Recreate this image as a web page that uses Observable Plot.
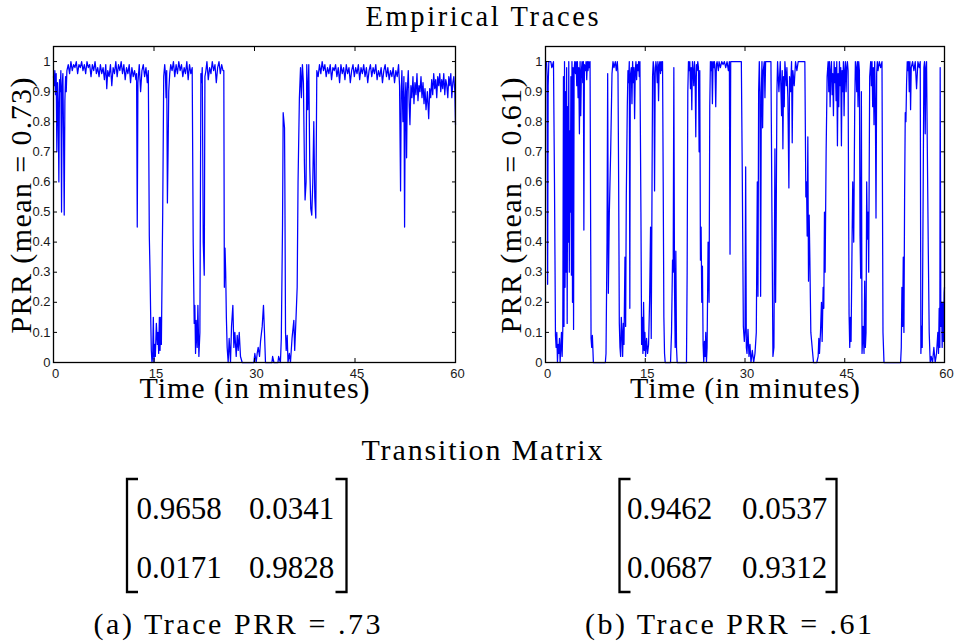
<!DOCTYPE html>
<html><head><meta charset="utf-8">
<script src="https://cdn.jsdelivr.net/npm/d3@7"></script>
<script src="https://cdn.jsdelivr.net/npm/@observablehq/plot@0.6"></script>
<style>
html,body{margin:0;padding:0;background:#fff;}
#root{position:relative;width:954px;height:644px;overflow:hidden;background:#fff;}
#root svg{position:absolute;}
</style></head><body><div id="root"></div>
<script>
// Trace (a): [time in minutes, PRR]
const traceA = [
[0,0.95],[0.1,0.92],[0.2,0.97],[0.3,0.89],[0.4,0.96],[0.5,0.7],[0.6,0.93],[0.7,0.86],[0.8,0.6],[0.9,0.94],[1.0,0.9],[1.1,0.97],[1.2,0.5],[1.3,0.92],[1.4,0.96],[1.5,0.76],[1.6,0.49],[1.7,0.87],[1.8,0.95],[1.9,0.9],[2.0,0.97],
[2.2,0.99],[2.4,0.96],[2.6,1.0],[2.8,0.97],[3.0,0.99],[3.2,0.98],[3.4,1.0],[3.6,0.96],[3.8,0.99],[4.0,0.98],[4.2,1.0],[4.4,0.97],[4.6,0.99],[4.8,0.96],[5.0,1.0],[5.2,0.98],[5.4,0.99],[5.6,0.95],[5.8,0.99],[6.0,0.97],[6.2,1.0],[6.4,0.96],[6.6,0.98],[6.8,0.95],[7.0,0.99],[7.2,0.96],[7.4,0.98],[7.6,0.94],[7.8,0.99],[7.95,0.91],[8.1,0.97],[8.3,0.95],[8.5,0.99],[8.7,0.92],[8.9,0.98],[9.1,0.96],[9.3,1.0],[9.5,0.95],[9.7,0.99],[9.9,0.97],[10.1,1.0],[10.3,0.96],[10.5,0.99],[10.7,0.94],[10.9,0.98],[11.1,0.96],[11.3,0.99],[11.5,0.93],[11.7,0.98],[11.9,0.95],[12.1,0.97],[12.3,0.94],
[12.4,0.96],[12.5,0.45],[12.6,0.93],[12.8,0.99],[13.0,0.9],[13.2,0.97],[13.4,0.99],[13.6,0.95],[13.8,0.98],[14.0,0.93],[14.15,0.97],[14.3,0.42],[14.4,0.31],[14.5,0.16],[14.6,0.04],[14.7,0.0],[14.8,0.02],[14.9,0.15],[15.0,0.0],[15.1,0.06],[15.2,0.02],[15.35,0.13],[15.5,0.06],[15.6,0.1],[15.7,0.03],[15.8,0.15],[15.9,0.04],[16.0,0.15],[16.1,0.06],[16.3,0.5],[16.45,0.95],[16.6,0.99],[16.7,0.96],[16.8,0.88],[16.9,0.97],[17.0,0.53],[17.1,0.7],[17.2,0.9],[17.35,0.96],
[17.5,0.99],[17.7,0.97],[17.9,1.0],[18.1,0.95],[18.3,0.99],[18.5,0.96],[18.7,1.0],[18.9,0.97],[19.1,0.99],[19.3,0.95],[19.5,0.98],[19.7,0.96],[19.9,1.0],[20.1,0.94],[20.3,0.99],[20.5,0.96],[20.7,0.98],
[20.85,0.4],[21.0,0.13],[21.1,0.19],[21.2,0.03],[21.3,0.14],[21.45,0.05],[21.55,0.19],[21.7,0.02],[21.85,0.1],[22.0,0.96],[22.1,0.93],[22.2,0.98],[22.35,0.4],[22.5,0.29],[22.6,0.95],[22.75,0.97],[22.9,1.0],[23.1,0.94],[23.3,0.98],[23.5,0.96],[23.7,1.0],[23.9,0.97],[24.1,0.99],[24.3,0.93],[24.5,0.98],[24.7,1.0],[24.9,0.96],[25.1,0.99],[25.3,0.97],[25.42,0.97],
[25.5,0.25],[25.6,0.38],[25.7,0.3],[25.8,0.15],[25.92,0.05],[26.07,0.0],[26.22,0.08],[26.42,0.0],[26.57,0.12],[26.77,0.19],[26.92,0.05],[27.07,0.1],[27.27,0.02],[27.42,0.09],[27.57,0.04],[27.72,0.1],[27.91,0.02],[28.16,0.0],[29.9,0.0],[30.05,0.03],[30.25,0.0],[30.4,0.03],[30.55,0.05],[30.75,0.02],[30.9,0.07],[31.15,0.12],[31.34,0.19],[31.49,0.1],[31.64,0.0],[32.6,0.0],[32.7,0.02],[32.9,0.0],[33.5,0.0],[33.6,0.02],[33.87,0.0],[34.0,0.08],[34.18,0.45],[34.28,0.83],[34.48,0.78],[34.53,0.6],[34.63,0.1],[34.73,0.04],[34.88,0.09],[35.0,0.0],[35.2,0.03],[35.37,0.0],[35.6,0.08],[35.87,0.14],[36.0,0.04],[36.2,0.15],[36.37,0.25],[36.5,0.6],[36.7,0.88],[36.87,0.98],
[37.0,0.88],[37.15,0.99],[37.3,0.93],[37.45,0.66],[37.55,0.54],[37.7,0.6],[37.8,0.99],[37.95,0.84],[38.1,0.99],[38.25,0.65],[38.4,0.51],[38.55,0.49],[38.7,0.6],[38.85,0.8],[39.0,0.55],[39.15,0.48],[39.3,0.97],[39.5,0.95],[39.7,0.99],[39.9,0.96],
[40.1,1.0],[40.3,0.97],[40.5,0.99],[40.7,0.95],[40.9,0.98],[41.1,0.96],[41.3,0.99],[41.5,0.94],[41.7,0.98],[41.9,0.97],[42.1,0.99],[42.3,0.95],[42.5,0.98],[42.7,0.93],[42.9,0.99],[43.1,0.96],[43.3,0.98],[43.5,0.94],[43.7,0.99],[43.9,0.96],[44.1,0.98],[44.3,0.93],[44.5,0.97],[44.7,0.99],[44.9,0.95],[45.1,0.98],[45.3,0.96],[45.5,0.99],[45.7,0.94],[45.9,0.98],[46.1,0.96],[46.3,0.99],[46.5,0.95],[46.7,0.98],[46.9,0.93],[47.1,0.97],[47.3,0.99],[47.5,0.95],[47.7,0.98],[47.9,0.96],[48.1,0.99],[48.3,0.94],[48.5,0.97],[48.7,0.95],[48.9,0.98],[49.1,0.93],[49.3,0.97],[49.5,0.99],[49.7,0.95],[49.9,0.98],[50.1,0.94],[50.3,0.97],[50.5,0.95],[50.7,0.98],[50.9,0.93],[51.1,0.97],[51.3,0.95],[51.5,0.99],
[51.65,0.92],[51.8,0.57],[51.9,0.9],[52.0,0.97],[52.15,0.8],[52.3,0.95],[52.4,0.45],[52.5,0.88],[52.6,0.93],[52.7,0.68],[52.8,0.9],[52.95,0.97],[53.1,0.85],[53.2,0.79],[53.35,0.92],[53.5,0.88],[53.65,0.95],[53.8,0.86],[53.95,0.93],[54.1,0.89],[54.25,0.96],[54.4,0.87],[54.55,0.92],[54.7,0.9],[54.85,0.95],[55.0,0.88],[55.15,0.93],[55.3,0.86],[55.45,0.91],[55.6,0.84],[55.8,0.9],[56.0,0.81],[56.15,0.91],[56.3,0.88],[56.45,0.94],[56.6,0.89],[56.75,0.96],[56.9,0.91],[57.05,0.94],[57.2,0.88],[57.35,0.95],[57.5,0.92],[57.65,0.96],[57.8,0.9],[57.95,0.94],[58.1,0.91],[58.25,0.96],[58.4,0.89],[58.55,0.94],[58.7,0.92],[58.85,0.88],[59.0,0.95],[59.15,0.92],[59.3,0.96],[59.45,0.88],[59.6,0.93],[59.75,0.95],[59.9,0.9],[60.0,0.79]
];

// Trace (b): [time in minutes, PRR]
const traceB = [
[0,1.0],[0.15,1.0],[0.25,0.95],[0.32,0.26],[0.4,0.92],[0.5,1.0],[0.8,1.0],[0.95,0.98],[1.2,1.0],[1.35,0.6],[1.5,0.09],[1.6,0.05],[1.7,0.1],[1.8,0.0],[1.9,0.06],[2.0,0.03],[2.1,0.08],[2.2,0.0],[2.3,0.05],[2.4,0.1],[2.5,0.02],[2.6,0.11],
[2.7,0.95],[2.78,0.12],[2.86,1.0],[2.94,0.25],[3.02,0.9],[3.1,0.3],[3.18,0.98],[3.26,0.13],[3.34,0.85],[3.42,0.4],[3.5,1.0],[3.58,0.3],[3.66,0.77],[3.74,0.5],[3.82,0.95],[3.9,0.29],[3.98,1.0],[4.06,0.2],[4.14,0.98],[4.22,0.11],[4.3,0.97],
[4.4,1.0],[4.5,0.96],[4.6,1.0],[4.7,0.92],[4.8,1.0],[4.9,0.88],[5.0,0.98],[5.1,0.76],[5.2,1.0],[5.3,0.82],[5.4,0.97],[5.5,1.0],[5.6,0.93],[5.7,1.0],[5.77,0.44],[5.85,0.99],[6.0,0.97],[6.1,1.0],[6.2,0.94],[6.3,1.0],[6.4,0.97],[6.5,1.0],[6.6,0.98],[6.7,1.0],
[6.85,0.08],[6.95,0.05],[7.05,0.09],[7.2,0.0],[9.0,0.0],[9.1,0.03],[9.25,0.4],[9.35,0.96],[9.45,0.23],[9.6,0.5],[9.8,0.7],[10.0,0.96],[10.15,1.0],[10.3,0.98],[10.5,1.0],[10.65,0.97],[10.8,1.0],[10.9,0.96],
[11.0,0.6],[11.1,0.13],[11.2,0.05],[11.3,0.02],[11.4,0.15],[11.5,0.1],[11.6,0.02],[11.7,0.13],[11.8,0.06],[11.95,0.35],[12.05,0.12],[12.15,0.55],[12.3,0.85],[12.4,0.97],[12.5,0.93],[12.6,1.0],[12.68,0.18],[12.75,0.95],[12.9,0.98],[13.0,0.86],[13.1,1.0],[13.2,0.93],[13.3,0.98],[13.4,0.81],[13.5,0.97],[13.6,1.0],[13.7,0.94],[13.8,0.99],[13.9,0.97],[14.0,1.0],[14.1,0.95],[14.2,1.0],
[14.35,0.5],[14.45,0.06],[14.55,0.15],[14.65,0.03],[14.75,0.2],[14.85,0.04],[14.95,0.1],[15.05,0.02],[15.2,0.08],[15.35,0.03],[15.5,0.06],[15.65,0.2],[15.8,0.45],[15.9,0.08],[16.0,0.5],[16.1,0.95],[16.2,1.0],[16.3,0.98],[16.4,0.57],[16.5,0.96],[16.6,1.0],[16.7,0.98],[16.8,0.93],[16.9,1.0],[17.0,0.87],[17.1,0.99],[17.2,1.0],[17.3,0.96],[17.4,1.0],[17.5,0.97],[17.6,1.0],
[17.7,0.6],[17.8,0.15],[17.9,0.03],[18.0,0.0],[18.8,0.0],[18.95,0.1],[19.1,0.34],[19.2,0.3],[19.3,0.98],[19.4,0.25],[19.5,0.05],[19.6,0.37],[19.7,0.05],[19.8,0.0],[21.2,0.0],[21.3,0.3],[21.4,0.9],
[21.5,1.0],[21.6,0.97],[21.7,1.0],[21.8,0.91],[21.9,0.98],[22.0,0.84],[22.1,1.0],[22.2,0.97],[22.3,0.92],[22.4,1.0],[22.5,0.95],[22.6,0.75],[22.7,0.99],[22.8,0.97],[22.9,1.0],[23.0,0.98],[23.1,0.7],[23.2,0.97],[23.3,0.34],[23.4,0.45],[23.5,0.2],[23.6,0.32],[23.7,0.06],[23.8,0.0],[23.9,0.07],[24.0,0.02],[24.1,0.1],[24.2,0.0],[24.3,0.05],[24.45,0.4],[24.6,0.2],[24.7,0.85],
[24.8,1.0],[24.9,0.97],[25.0,1.0],[25.1,0.86],[25.2,1.0],[25.3,0.98],[25.4,1.0],[25.5,0.97],[25.6,0.85],[25.7,0.99],[25.8,1.0],[26.0,0.97],[26.1,1.0],[26.3,0.98],[26.5,1.0],[26.7,0.99],[26.9,1.0],[27.1,0.98],[27.3,1.0],[27.5,0.97],[27.65,1.0],[27.75,0.36],[27.85,1.0],[29.45,1.0],
[29.6,0.6],[29.75,0.12],[29.9,0.07],[30.0,0.1],[30.1,0.65],[30.2,0.05],[30.3,0.03],[30.45,0.11],[30.6,0.02],[30.75,0.06],[30.9,0.0],[31.1,0.04],[31.3,0.0],[31.5,0.03],[31.7,0.1],[31.85,0.6],[31.95,0.22],[32.05,0.9],[32.15,1.0],[32.25,0.9],[32.35,0.22],[32.45,0.88],[32.55,1.0],[32.65,0.78],[32.75,0.97],[32.9,1.0],[33.0,0.88],[33.1,1.0],[33.9,1.0],
[34.05,0.5],[34.2,0.02],[34.35,0.05],[34.5,0.71],[34.6,0.2],[34.7,0.5],[34.8,0.9],[34.9,1.0],[35.1,0.9],[35.3,1.0],[35.5,0.82],[35.6,0.97],[35.7,0.71],[35.8,0.95],[35.9,0.85],[36.0,1.0],[36.2,0.92],[36.3,0.98],[36.45,0.88],[36.6,0.58],[36.7,0.95],[36.85,0.9],[37.0,1.0],[37.1,0.73],[37.2,0.97],[37.4,0.92],[37.6,1.0],[37.8,0.97],[38.0,1.0],[39.0,1.0],
[39.15,0.55],[39.25,0.6],[39.35,0.42],[39.45,0.75],[39.55,0.27],[39.65,0.49],[39.75,0.35],[39.9,0.1],[40.1,0.05],[40.3,0.0],[40.8,0.0],[41.0,0.02],[41.1,0.08],[41.2,0.03],[41.35,0.1],[41.5,0.2],[41.6,0.07],[41.75,0.25],[41.85,0.18],[41.95,0.5],[42.05,0.3],[42.2,0.7],[42.35,0.95],
[42.5,1.0],[42.6,0.9],[42.7,1.0],[42.8,0.85],[42.9,0.97],[43.0,1.0],[43.1,0.89],[43.2,0.96],[43.3,0.82],[43.4,1.0],[43.5,0.93],[43.6,0.98],[43.7,0.87],[43.8,1.0],[43.9,0.72],[44.0,0.96],[44.1,0.85],[44.2,1.0],[44.3,0.92],[44.4,0.98],[44.5,0.72],[44.6,0.97],[44.7,0.9],[44.8,1.0],[44.9,0.82],[45.0,0.97],[45.1,1.0],[45.2,0.9],[45.3,0.98],[45.4,1.0],[45.5,0.97],
[45.65,0.16],[45.75,0.05],[45.85,0.15],[45.95,0.07],[46.1,0.4],[46.2,0.6],[46.35,0.4],[46.5,0.85],[46.6,1.0],[46.7,0.98],[46.8,0.9],[46.9,1.0],[47.0,0.85],[47.1,1.0],[47.2,0.97],[47.3,0.42],[47.4,0.28],[47.5,0.9],[47.6,0.03],[47.75,0.12],[47.9,0.03],[48.0,0.27],[48.1,0.05],[48.2,0.1],[48.3,0.6],[48.4,0.41],[48.5,0.5],[48.6,0.3],[48.75,0.95],
[48.9,1.0],[49.0,0.92],[49.1,1.0],[49.2,0.85],[49.3,0.98],[49.4,0.79],[49.5,1.0],[49.6,0.87],[49.7,0.48],[49.8,0.96],[49.9,1.0],[50.0,0.97],[50.2,1.0],[50.4,0.98],[50.6,1.0],[50.75,0.1],[50.9,0.0],[53.4,0.0],
[53.5,0.05],[53.6,0.25],[53.7,0.12],[53.8,0.35],[53.9,0.1],[54.0,0.55],[54.1,0.83],[54.2,0.8],[54.3,0.93],[54.4,1.0],[54.5,0.97],[54.6,1.0],[54.7,0.9],[54.8,1.0],[54.9,0.84],[55.0,0.98],[55.2,1.0],[55.4,0.97],[55.6,1.0],[55.8,0.91],[56.0,1.0],[56.2,0.98],[56.35,1.0],
[56.45,0.03],[56.55,0.12],[56.65,0.05],[56.8,0.6],[56.9,0.98],[57.0,1.0],[57.1,0.76],[57.2,0.98],[57.3,1.0],[57.4,0.75],[57.55,0.4],[57.7,0.1],[57.85,0.0],[58.0,0.02],[58.2,0.0],[58.4,0.05],[58.6,0.0],[58.8,0.03],[59.0,0.1],[59.1,0.03],[59.2,0.18],[59.3,0.05],[59.35,0.98],[59.45,0.12],[59.55,0.2],[59.65,0.05],[59.75,0.2],[59.85,0.07],[59.95,0.23],[60,0.25]
];

const xTicks = [0, 15, 30, 45, 60];
const yTicks = [0, 0.1, 0.2, 0.3, 0.4, 0.5, 0.6, 0.7, 0.8, 0.9, 1];
const yLabels = ["PRR (mean = 0.73)", "PRR (mean = 0.61)"];
const xLabel = "Time (in minutes)";
const chartTitle = "Empirical Traces";
const matrixTitle = "Transition Matrix";
const matrixA = [[0.9658, 0.0341], [0.0171, 0.9828]];
const matrixB = [[0.9462, 0.0537], [0.0687, 0.9312]];
const captions = ["(a) Trace PRR = .73", "(b) Trace PRR = .61"];

const SANS = "'Liberation Sans', Arial, Helvetica, sans-serif";
const SERIF = "'Liberation Serif', 'Times New Roman', Times, serif";
const root = document.getElementById("root");

function panel(data, yLabel, L) {
  const svg = Plot.plot({
    width: L.width, height: 410,
    marginLeft: L.ml, marginRight: L.mr, marginTop: 46, marginBottom: 48,
    x: {domain: [0, 60]},
    y: {domain: [0, 1.05]},
    style: {background: "transparent", overflow: "visible", color: "#000"},
    marks: [
      Plot.line(data, {x: d => d[0], y: d => d[1], stroke: "#0000ff", strokeWidth: 1.25}),
      Plot.axisY(yTicks, {anchor: "left", tickSize: 0, tickPadding: 3, tickFormat: d => String(d), fontSize: 13, fontFamily: SANS, fill: "#1a1a1a", label: null}),
      Plot.axisY(yTicks, {anchor: "left", tickSize: 4, dx: 4, fill: "none", stroke: "#000", label: null}),
      Plot.axisY(yTicks, {anchor: "right", tickSize: 4, dx: -4, fill: "none", stroke: "#000", label: null}),
      Plot.axisX(xTicks, {anchor: "bottom", tickSize: 0, tickPadding: 6, dx: 2, fontSize: 13, fontFamily: SANS, fill: "#1a1a1a", label: null}),
      Plot.axisX(xTicks, {anchor: "bottom", tickSize: 4, dy: -4, fill: "none", stroke: "#000", label: null}),
      Plot.axisX(xTicks, {anchor: "top", tickSize: 4, dy: 4, fill: "none", stroke: "#000", label: null}),
      Plot.frame({stroke: "#000", strokeWidth: 1.3}),
      Plot.text([yLabel], {text: d => d, frameAnchor: "left", dx: L.ylabDx, dy: 1, rotate: -90, textAnchor: "middle", lineAnchor: "bottom", fontSize: 30, fontFamily: SERIF, fill: "#000"}),
      Plot.text([xLabel], {text: d => d, frameAnchor: "bottom", dy: 35, textAnchor: "middle", lineAnchor: "bottom", fontSize: 30, fontFamily: SERIF, fill: "#000"})
    ]
  });
  d3.select(svg).selectAll('g[aria-label="text"] text').each(function() {
    const t = this.textContent;
    d3.select(this).attr("textLength", t.startsWith("PRR") ? 256 : 230).attr("lengthAdjust", "spacing")
      .style("font-family", SERIF);
  });
  svg.style.left = L.left + "px";
  svg.style.top = "0px";
  root.appendChild(svg);
}

panel(traceA, yLabels[0], {left: 0, width: 470, ml: 53, mr: 15, ylabDx: -23});
panel(traceB, yLabels[1], {left: 490, width: 464, ml: 55, mr: 10, ylabDx: -25});

// Titles, matrices and captions
const over = d3.select(root).append("svg")
  .attr("width", 954).attr("height", 644)
  .style("left", "0px").style("top", "0px")
  .style("font-family", SERIF).attr("fill", "#000");

over.append("text").attr("x", 482).attr("y", 26).attr("text-anchor", "middle")
  .attr("font-size", 28.5).attr("textLength", 233).attr("lengthAdjust", "spacing").text(chartTitle);
over.append("text").attr("x", 482).attr("y", 460).attr("text-anchor", "middle")
  .attr("font-size", 30).attr("textLength", 241).attr("lengthAdjust", "spacing").text(matrixTitle);

function matrix(m, M) {
  const g = over.append("g");
  const top = 479, bot = 592;
  g.append("path").attr("d", `M${M.lb + 11},${top}H${M.lb}V${bot}H${M.lb + 11}`)
    .attr("fill", "none").attr("stroke", "#000").attr("stroke-width", 2.3);
  g.append("path").attr("d", `M${M.rb - 11},${top}H${M.rb}V${bot}H${M.rb - 11}`)
    .attr("fill", "none").attr("stroke", "#000").attr("stroke-width", 2.3);
  const rows = [519, 578];
  m.forEach((row, i) => row.forEach((v, j) => {
    g.append("text").attr("x", M.cols[j]).attr("y", rows[i]).attr("font-size", 31).text(v.toFixed(4));
  }));
}
matrix(matrixA, {lb: 127, rb: 346.5, cols: [136.5, 249]});
matrix(matrixB, {lb: 619.5, rb: 836.5, cols: [627, 742]});

over.append("text").attr("x", 237).attr("y", 634).attr("text-anchor", "middle")
  .attr("font-size", 30).attr("textLength", 287).attr("lengthAdjust", "spacing").text(captions[0]);
over.append("text").attr("x", 728.5).attr("y", 634).attr("text-anchor", "middle")
  .attr("font-size", 30).attr("textLength", 287).attr("lengthAdjust", "spacing").text(captions[1]);
</script>
</body></html>
